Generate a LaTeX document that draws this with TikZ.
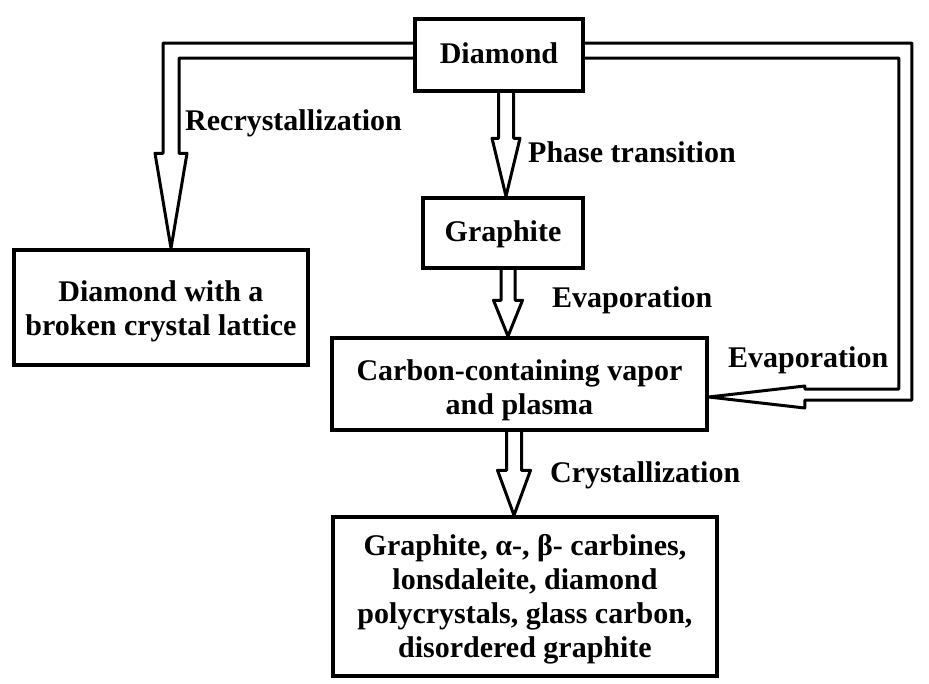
\documentclass[tikz,border=0pt]{standalone}
\usepackage{fontspec}
\setmainfont{Liberation Serif}
\usetikzlibrary{calc}
% hollow downward arrow: #1 source node, #2 tip coordinate,
% #3 half shaft width, #4 half head width, #5 head length
\newcommand{\hollowdrop}[5]{%
  \coordinate (s-#2) at (#2 |- #1.south);
  \draw[arr] ($(s-#2)+(-#3,0)$) -- ($(#2)+(-#3,-#5)$) -- ($(#2)+(-#4,-#5)$)
    -- (#2) -- ($(#2)+(#4,-#5)$) -- ($(#2)+(#3,-#5)$) -- ($(s-#2)+(#3,0)$);
}
\begin{document}
\begin{tikzpicture}[x=1pt,y=-1pt,
  txt/.style={font=\bfseries\fontsize{30}{34}\selectfont},
  box/.style={draw,line width=3.5pt,inner sep=0pt},
  boxtext/.style={txt,align=center,inner sep=0pt,yshift=#1},
  lbl/.style={txt,anchor=west,inner sep=0pt},
  arr/.style={draw,line width=3pt,line join=round}]
\useasboundingbox (0,0) rectangle (929,683);

% boxes, each with its text set at the centre
\node[box,minimum width=168pt,minimum height=72pt,
  label={[boxtext=2pt]center:Diamond}] (diamond) at (499,55) {};
\node[box,minimum width=160pt,minimum height=70pt,
  label={[boxtext=-1pt]center:Graphite}] (graphite) at (503,233) {};
\node[box,minimum width=294pt,minimum height=115pt,
  label={[boxtext=-4pt]center:{Diamond with a\\broken crystal lattice}}] (lattice) at (161,307.5) {};
\node[box,minimum width=375pt,minimum height=92pt,
  label={[boxtext=-6pt]center:{Carbon-containing vapor\\and plasma}}] (carbon) at (519.5,384) {};
\node[box,minimum width=384pt,minimum height=159pt,
  label={[boxtext=-3pt]center:{Graphite, α-, β- carbines,\\lonsdaleite, diamond\\polycrystals, glass carbon,\\disordered graphite}}] (products) at (525,596.5) {};

% arrow tips
\coordinate (tg) at ($(graphite.north)+(3,0)$);
\coordinate (tc) at ($(carbon.north)+(-11.5,0)$);
\coordinate (tp) at ($(products.north)+(-11,0)$);
\coordinate (tl) at ($(lattice.north)+(10,0)$);
\coordinate (tr) at ($(carbon.east)+(0,13)$);

% straight hollow arrows
\hollowdrop{diamond}{tg}{7.5}{14}{58}
\hollowdrop{graphite}{tc}{7}{14.5}{36}
\hollowdrop{carbon}{tp}{7.5}{16.5}{45}

% elbow arrow to the left box
\draw[arr] ($(diamond.west)+(0,-12)$) -| ($(tl)+(-8,-95)$) -- ++(-8,0) -- (tl)
  -- ++(16,-95) -- ++(-8,0) |- ($(diamond.west)+(0,3)$);

% elbow arrow round the right side into the vapor box
\draw[arr] ($(diamond.east)+(0,-12)$) -| ($(tr)+(203,3)$) -- ++(-107,0) -- ++(0,8)
  -- (tr) -- ++(96,-11) -- ++(0,3) -- ++(94,0) |- ($(diamond.east)+(0,3)$);

% labels
\node[lbl] (l1) at (185,123) {Recrystallization};
\node[lbl] (l2) at (528,152) {Phase transition};
\node[lbl] (l3) at (552,300) {Evaporation};
\node[lbl] (l4) at (728,360) {Evaporation};
\node[lbl] (l5) at (550,475) {Crystallization};
\end{tikzpicture}
\end{document}
